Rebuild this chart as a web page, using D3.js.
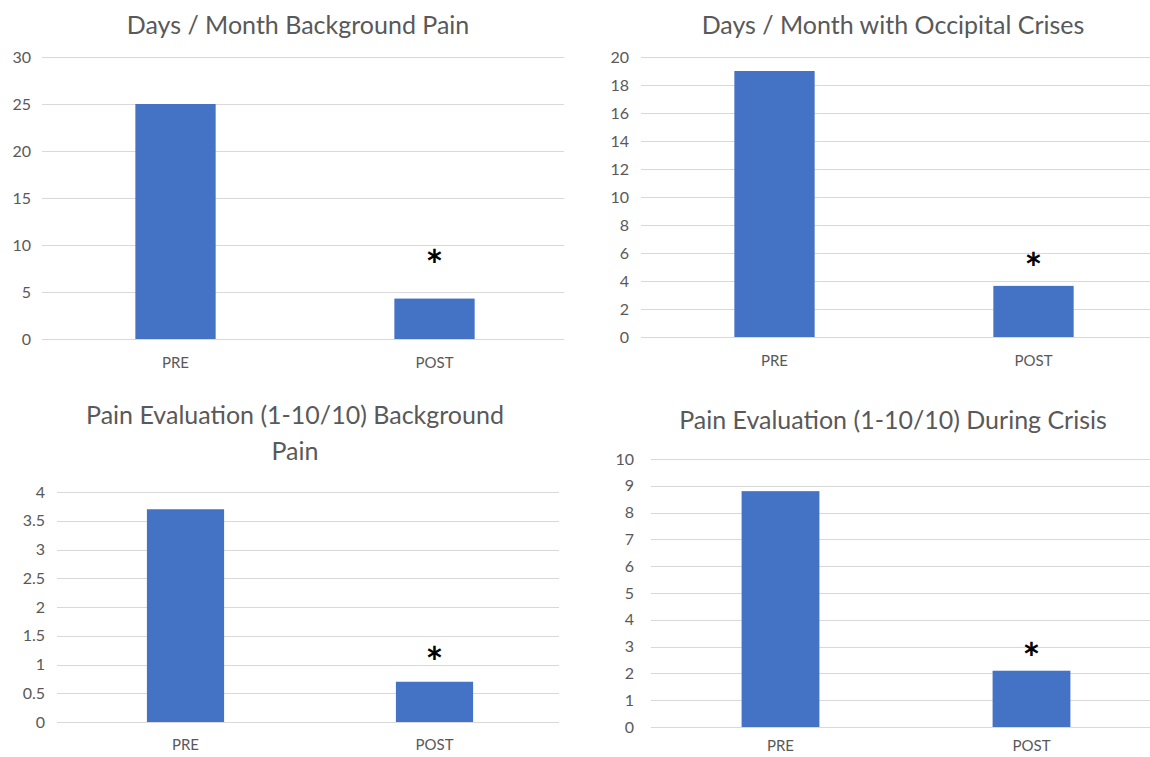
<!DOCTYPE html>
<meta charset="utf-8">
<style>
body { margin: 0; background: #fff; }
svg text { font-family: Lato, "Open Sans", sans-serif; }
.grid line { stroke: #d9d9d9; stroke-width: 1px; }
.tick-label { fill: #595959; font-size: 16px; }
.cat-label { fill: #595959; font-size: 15px; }
.title { fill: #595959; font-size: 25px; }
.star { fill: #000; font-size: 42px; font-weight: bold; }
</style>
<svg width="1150" height="757"></svg>
<script src="https://d3js.org/d3.v7.min.js"></script>
<script>

var categories = ["PRE", "POST"];

var backgroundDays = [25, 4.3];
var crisisDays = [19, 3.65];
var backgroundScore = [3.7, 0.7];
var crisisScore = [8.8, 2.1];

var backgroundDaysTicks = [0, 5, 10, 15, 20, 25, 30];
var crisisDaysTicks = [0, 2, 4, 6, 8, 10, 12, 14, 16, 18, 20];
var backgroundScoreTicks = [0, 0.5, 1, 1.5, 2, 2.5, 3, 3.5, 4];
var crisisScoreTicks = [0, 1, 2, 3, 4, 5, 6, 7, 8, 9, 10];

var svg = d3.select("svg");

// one panel per chart; left/right/top/bottom = plot area in page pixels
// starGap = distance from top of POST bar to centre of the asterisk
var panels = [
  { title: ["Days / Month Background Pain"], values: backgroundDays, ticks: backgroundDaysTicks,
    left: 46, right: 564, top: 57, bottom: 339, titleX: 298, titleY: 34, labelX: 31, starGap: 41, catDy: 29 },
  { title: ["Days / Month with Occipital Crises"], values: crisisDays, ticks: crisisDaysTicks,
    left: 645, right: 1163, top: 57, bottom: 337, titleX: 893, titleY: 34, labelX: 629, starGap: 25, catDy: 29 },
  { title: ["Pain Evaluation (1-10/10) Background", "Pain"], values: backgroundScore, ticks: backgroundScoreTicks,
    left: 61, right: 559, top: 492, bottom: 722, titleX: 295, titleY: 424, labelX: 45, starGap: 27, catDy: 28 },
  { title: ["Pain Evaluation (1-10/10) During Crisis"], values: crisisScore, ticks: crisisScoreTicks,
    left: 655, right: 1157, top: 459, bottom: 727, titleX: 893, titleY: 429, labelX: 634, starGap: 20, catDy: 24 }
];

panels.forEach(function(p) {
  var g = svg.append("g");

  var x = d3.scaleBand()
      .domain(categories)
      .range([p.left, p.right])
      .paddingInner(0.69)
      .paddingOuter(0.345);

  var y = d3.scaleLinear()
      .domain([0, d3.max(p.ticks)])
      .range([p.bottom, p.top]);

  g.append("g").attr("class", "grid")
    .selectAll("line")
    .data(p.ticks)
    .enter().append("line")
      .attr("x1", p.left - 4)
      .attr("x2", p.right)
      .attr("y1", function(d) { return Math.round(y(d)) + 0.5; })
      .attr("y2", function(d) { return Math.round(y(d)) + 0.5; });

  g.selectAll(".tick-label")
    .data(p.ticks)
    .enter().append("text")
      .attr("class", "tick-label")
      .attr("x", p.labelX)
      .attr("y", function(d) { return y(d); })
      .attr("dy", "0.35em")
      .attr("text-anchor", "end")
      .text(function(d) { return d; });

  g.selectAll("rect")
    .data(p.values)
    .enter().append("rect")
      .attr("fill", "#4472c4")
      .attr("x", function(d, i) { return x(categories[i]); })
      .attr("width", x.bandwidth())
      .attr("y", function(d) { return y(d); })
      .attr("height", function(d) { return y(0) - y(d); });

  g.selectAll(".cat-label")
    .data(categories)
    .enter().append("text")
      .attr("class", "cat-label")
      .attr("x", function(d) { return x(d) + x.bandwidth() / 2; })
      .attr("y", p.bottom + p.catDy)
      .attr("text-anchor", "middle")
      .text(function(d) { return d; });

  // significance marker above the POST bar
  g.append("text")
    .attr("class", "star")
    .attr("x", x("POST") + x.bandwidth() / 2)
    .attr("y", y(p.values[1]) - p.starGap + 42 * 0.56)
    .attr("text-anchor", "middle")
    .text("*");

  g.selectAll(".title")
    .data(p.title)
    .enter().append("text")
      .attr("class", "title")
      .attr("x", p.titleX)
      .attr("y", function(d, i) { return p.titleY + i * 36; })
      .attr("text-anchor", "middle")
      .text(function(d) { return d; });
});

</script>
